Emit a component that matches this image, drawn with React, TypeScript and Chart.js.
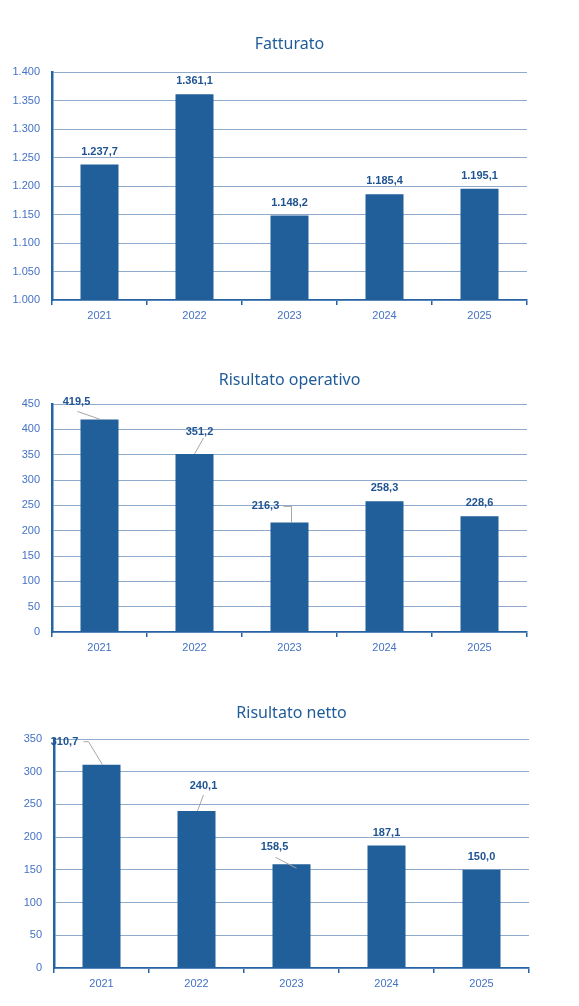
import React, { useEffect, useRef } from "react";
import { Chart, registerables } from "chart.js";

Chart.register(...registerables);

// Years shown on every chart
const years = ["2021", "2022", "2023", "2024", "2025"];

// Revenue (millions)
const fatturato = [1237.7, 1361.1, 1148.2, 1185.4, 1195.1];
// Operating result
const risultatoOperativo = [419.5, 351.2, 216.3, 258.3, 228.6];
// Net result
const risultatoNetto = [310.7, 240.1, 158.5, 187.1, 150.0];

// Value axis ranges: [min, max, step]
const fatturatoAxis = [1000, 1400, 50];
const operativoAxis = [0, 450, 50];
const nettoAxis = [0, 350, 50];

const BAR = "#215F9A";
const AXIS = "#2463A4";
const GRID = "#8FAACB";
const TICK = "#4472C4";
const TITLE = "#1F5C99";
const LABEL = "#1F5491";

// Italian number formatting: "." for thousands, "," for decimals
function fmt(v: number, decimals: number): string {
  const fixed = Math.abs(v).toFixed(decimals);
  const [int, dec] = fixed.split(".");
  const grouped = int.replace(/\B(?=(\d{3})+(?!\d))/g, ".");
  return (v < 0 ? "-" : "") + grouped + (dec ? "," + dec : "");
}

type LabelPlacement = {
  dx: number;
  dy: number;
  leader?: number[][]; // points relative to label centre
  end?: number[]; // end point relative to bar top centre
} | null;

// Label placements for moved data labels (with leader lines)
const fatturatoLabels: LabelPlacement[] = [null, null, null, null, null];
const operativoLabels: LabelPlacement[] = [
  { dx: -23, dy: -4, leader: [[1, 9]], end: [1, 0] },
  { dx: 5, dy: -9, leader: [[4, 6]], end: [0, 0] },
  { dx: -24, dy: -3, leader: [[18, 0], [26, 0]], end: [2, 0] },
  null,
  null,
];
const nettoLabels: LabelPlacement[] = [
  { dx: -37, dy: -10, leader: [[19, 0], [24, 0]], end: [1, 0] },
  { dx: 7, dy: -12, leader: [[0, 9]], end: [1, 0] },
  { dx: -17, dy: -4, leader: [[1, 10]], end: [5, 4] },
  null,
  null,
];

// Value labels above bars; moved ones get a grey leader line
function makeLabelPlugin(placements: LabelPlacement[]) {
  return {
    id: "barLabels",
    afterDatasetsDraw(chart: any) {
      const ctx = chart.ctx;
      const meta = chart.getDatasetMeta(0);
      const values = chart.data.datasets[0].data as number[];
      ctx.save();
      ctx.font = "bold 11px 'Liberation Sans', Arial, sans-serif";
      ctx.textAlign = "center";
      ctx.textBaseline = "middle";
      meta.data.forEach((bar: any, i: number) => {
        const p = placements[i];
        const bx = bar.x;
        const by = bar.y;
        const lx = bx + (p ? p.dx : 0);
        const ly = by - 13 + (p ? p.dy : 0);
        if (p && p.leader) {
          ctx.beginPath();
          ctx.strokeStyle = "#A6A6A6";
          ctx.lineWidth = 1;
          p.leader.forEach((pt, k) => {
            const x = lx + pt[0];
            const y = ly + pt[1];
            if (k === 0) ctx.moveTo(x, y);
            else ctx.lineTo(x, y);
          });
          const e = p.end || [0, 0];
          ctx.lineTo(bx + e[0], by + e[1]);
          ctx.stroke();
        }
        ctx.fillStyle = LABEL;
        ctx.fillText(fmt(values[i], 1), lx, ly);
      });
      ctx.restore();
    },
  };
}

type ChartSpec = {
  title: string;
  values: number[];
  axis: number[];
  placements: LabelPlacement[];
  height: number;
  titleTop: number;
  titleBottom: number;
  yWidth: number;
  xHeight: number;
  rightPad: number;
};

function BarChart({ spec }: { spec: ChartSpec }) {
  const ref = useRef<HTMLCanvasElement | null>(null);
  useEffect(() => {
    if (!ref.current) return;
    const chart = new Chart(ref.current, {
      type: "bar",
      data: {
        labels: years,
        datasets: [
          {
            data: spec.values,
            backgroundColor: BAR,
            borderWidth: 0,
            barPercentage: 0.4,
            categoryPercentage: 1,
          },
        ],
      },
      options: {
        animation: false,
        responsive: false,
        devicePixelRatio: 1,
        layout: { padding: { top: 0, left: 0, right: spec.rightPad, bottom: 0 } },
        plugins: {
          legend: { display: false },
          tooltip: { enabled: false },
          title: {
            display: true,
            text: spec.title,
            fullSize: false,
            color: TITLE,
            font: { family: "'Noto Sans', 'Open Sans', sans-serif", size: 16, weight: "normal", lineHeight: 1.2 },
            padding: { top: spec.titleTop, bottom: spec.titleBottom },
          },
        },
        scales: {
          x: {
            offset: true,
            grid: {
              offset: true,
              drawOnChartArea: false,
              drawTicks: true,
              tickLength: 5,
              color: AXIS,
              lineWidth: 1.5,
            },
            border: { display: true, color: AXIS, width: 1.5 },
            ticks: {
              color: TICK,
              padding: 4,
              font: { family: "'Liberation Sans', Arial, sans-serif", size: 11 },
            },
            afterFit: (s: any) => {
              s.height = spec.xHeight;
            },
          },
          y: {
            min: spec.axis[0],
            max: spec.axis[1],
            ticks: {
              stepSize: spec.axis[2],
              color: TICK,
              padding: 12,
              font: { family: "'Liberation Sans', Arial, sans-serif", size: 11 },
              callback: (v: any) => fmt(Number(v), 0),
            },
            grid: { color: GRID, lineWidth: 1, drawTicks: false },
            border: { display: true, color: AXIS, width: 2.5 },
            afterFit: (s: any) => {
              s.width = spec.yWidth;
            },
          },
        },
      },
      plugins: [makeLabelPlugin(spec.placements)],
    });
    return () => chart.destroy();
  }, [spec]);
  return (
    <canvas
      ref={ref}
      width={579}
      height={spec.height}
      style={{ display: "block", width: 579, height: spec.height }}
    />
  );
}

const specs: ChartSpec[] = [
  {
    title: "Fatturato",
    values: fatturato,
    axis: fatturatoAxis,
    placements: fatturatoLabels,
    height: 333,
    titleTop: 34.4,
    titleBottom: 18.4,
    yWidth: 52,
    xHeight: 33,
    rightPad: 52,
  },
  {
    title: "Risultato operativo",
    values: risultatoOperativo,
    axis: operativoAxis,
    placements: operativoLabels,
    height: 333,
    titleTop: 37.4,
    titleBottom: 14.4,
    yWidth: 52,
    xHeight: 34,
    rightPad: 52,
  },
  {
    title: "Risultato netto",
    values: risultatoNetto,
    axis: nettoAxis,
    placements: nettoLabels,
    height: 340,
    titleTop: 37.4,
    titleBottom: 16.4,
    yWidth: 54,
    xHeight: 38,
    rightPad: 50,
  },
];

export default function App() {
  return (
    <div
      style={{
        position: "absolute",
        left: 0,
        top: 0,
        width: 579,
        height: 1006,
        background: "#ffffff",
      }}
    >
      {specs.map((s) => (
        <BarChart key={s.title} spec={s} />
      ))}
    </div>
  );
}
